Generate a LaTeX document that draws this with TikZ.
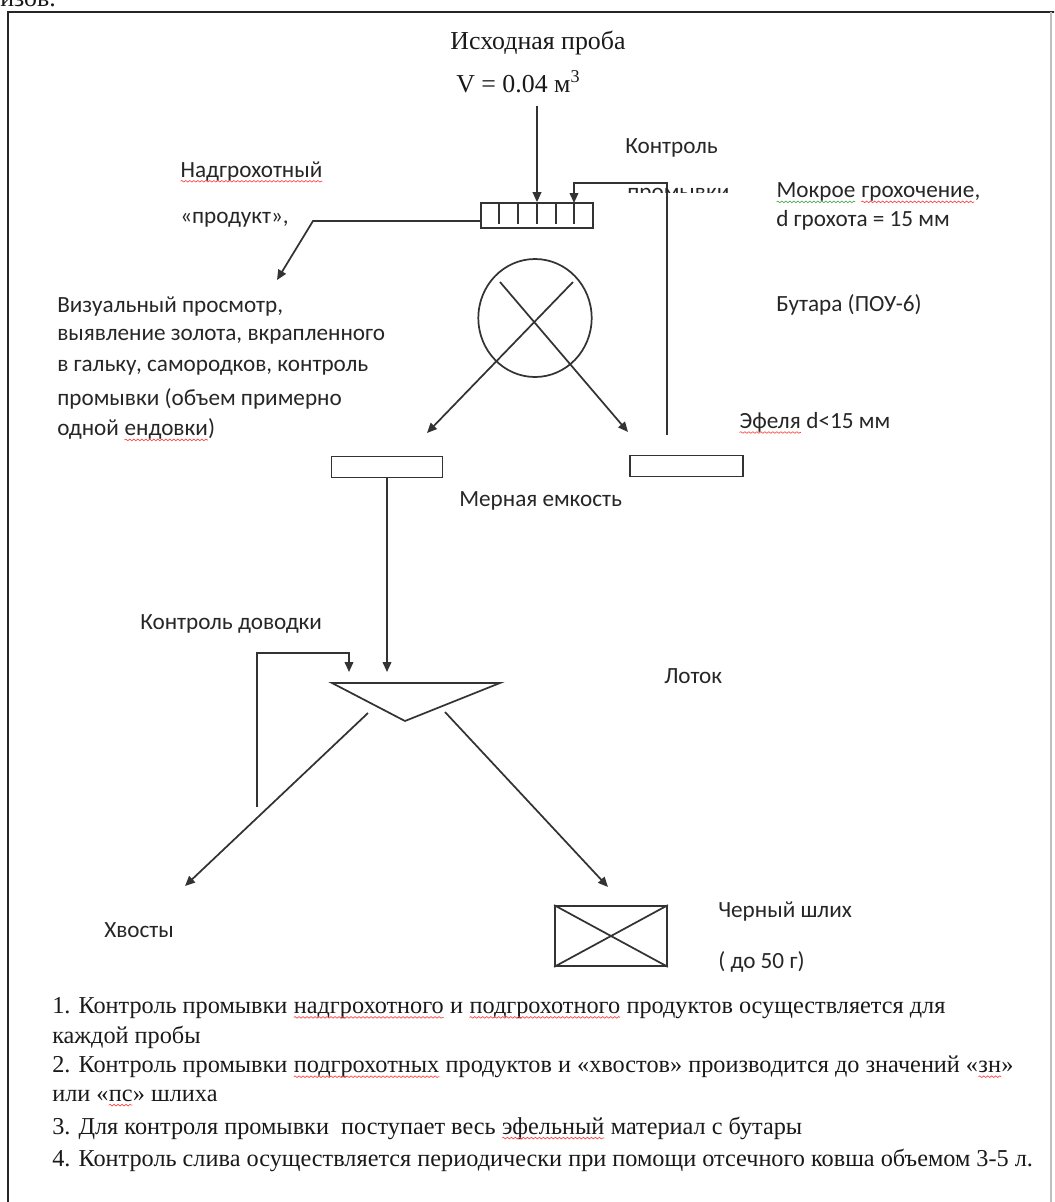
\documentclass[tikz,border=0pt]{standalone}
\usepackage{fontspec}
\setmainfont{Liberation Serif}
\newfontfamily\lblfont{Carlito}
\usetikzlibrary{arrows.meta,shapes.geometric,decorations.pathmorphing}
\newcommand\spellmark[2]{\tikz[baseline=(w.base)]{\node[inner sep=0pt,outer sep=0pt,anchor=base west,font=] (w) at (0pt,0pt) {#2}; \draw[#1,line width=0.5pt,decorate,decoration={snake,amplitude=0.6pt,segment length=3pt}] ([yshift=-3pt]w.base west) -- ([yshift=-3pt]w.base east);}}
\newcommand\spl[1]{\spellmark{red!75}{#1}}
\newcommand\splg[1]{\spellmark{green!50!black!70}{#1}}
\begin{document}
\begin{tikzpicture}[x=0.75pt,y=-0.75pt,
  ln/.style={draw=black!80, line width=1.3pt},
  arr/.style={ln, -{Triangle[length=7.5pt,width=6.5pt]}},
  boxn/.style={ln, rectangle, inner sep=0pt},
  lbl/.style={font=\lblfont\fontsize{17.4}{20}\selectfont, inner sep=0pt, anchor=west, text=black!85},
  ser/.style={font=\fontsize{18.2}{21}\selectfont, inner sep=0pt, anchor=west, text=black!90},
  big/.style={font=\fontsize{19.4}{23}\selectfont, inner sep=0pt, text=black!90}]
\useasboundingbox (0,0) rectangle (1054,1202);
\clip (0,0) rectangle (1054,1202);
% frame
\draw[draw=black!85, line width=2pt] (8,1210) -- (8,12) -- (1060,12);
\draw[draw=black!25, line width=1pt] (1051,12) -- (1051,1210);
\node[big, anchor=base west] (prev) at (0,7) {изов.};
% title
\node[big, anchor=center] (t1) at (538,43) {Исходная проба};
\node[big, anchor=west] (t2) at (456,82) {V = 0.04 м\textsuperscript{3}};
% screen
\node[boxn, minimum width=84pt, minimum height=18.75pt] (scr) at (537,215.5) {};
\foreach \xx in {499,518,537,556,574} \draw[ln] (\xx,203) -- (\xx,224);
\coordinate (a0) at (537,106);
\draw[arr] (a0) -- (scr.north);
\coordinate (fbB) at (667,435);
\coordinate (fbT) at (574,183);
\coordinate (fbE) at (574,203);
\draw[arr] (fbB) |- (fbT) -- (fbE);
\coordinate (s1) at (481,221);
\coordinate (s2) at (313,221);
\coordinate (s3) at (277,280);
\draw[arr] (s1) -- (s2) -- (s3);
% butara
\node[ln, ellipse, inner sep=0pt, minimum width=85pt, minimum height=88.5pt] (but) at (535,318) {};
\coordinate (c1) at (500,282);
\coordinate (c1e) at (628,432);
\coordinate (c2) at (573,282);
\coordinate (c2e) at (427,433);
\draw[arr] (c1) -- (c1e);
\draw[arr] (c2) -- (c2e);
% measuring vessels
\node[boxn, minimum width=83.25pt, minimum height=15.75pt] (mL) at (387,467) {};
\node[boxn, minimum width=84.75pt, minimum height=15.75pt] (mR) at (686.5,466) {};
% lotok
\coordinate (tA) at (332,683);
\coordinate (tB) at (500,683);
\coordinate (tC) at (405,721);
\draw[ln] (tA) -- (tB) -- (tC) -- cycle;
\coordinate (lt1) at (387,672);
\draw[arr] (mL.south -| lt1) -- (lt1);
\coordinate (d1) at (257,807);
\coordinate (d2) at (349,653);
\coordinate (d3) at (349,672);
\draw[arr] (d1) |- (d2) -- (d3);
\coordinate (e1) at (368,713);
\coordinate (e1e) at (185,886);
\coordinate (e2) at (445,712);
\coordinate (e2e) at (608,887);
\draw[arr] (e1) -- (e1e);
\draw[arr] (e2) -- (e2e);
% black concentrate
\node[boxn, minimum width=84pt, minimum height=45pt] (shl) at (611,936) {};
\draw[ln] (shl.north west) -- (shl.south east) (shl.north east) -- (shl.south west);
% labels
\node[lbl] (k1) at (625,148) {Контроль};
\begin{scope}
\clip (600,180) rectangle (760,192.5);
\node[lbl] (k2) at (627,196) {промывки};
\end{scope}
\node[lbl] (n1) at (180,172) {\spl{Надгрохотный}};
\node[lbl] (n2) at (180,220) {«продукт»,};
\node[lbl] (m1) at (776,193) {\splg{Мокрое} \spl{грохочение},};
\node[lbl] (m2) at (776,220) {d грохота = 15 мм};
\node[lbl] (v1) at (57,307) {Визуальный просмотр,};
\node[lbl] (v2) at (57,337) {выявление золота, вкрапленного};
\node[lbl] (v3) at (57,368) {в гальку, самородков, контроль};
\node[lbl] (v4) at (57,399) {промывки (объем примерно};
\node[lbl] (v5) at (57,430) {одной \spl{ендовки})};
\node[lbl] (b1) at (776,305) {Бутара (ПОУ-6)};
\node[lbl] (ef) at (739,423) {\spl{Эфеля} d<15 мм};
\node[lbl] (me) at (459,501) {Мерная емкость};
\node[lbl] (kd) at (140,624) {Контроль доводки};
\node[lbl] (lo) at (664,676) {Лоток};
\node[lbl] (hv) at (104,930) {Хвосты};
\node[lbl] (cs1) at (718,912) {Черный шлих};
\node[lbl] (cs2) at (718,962) {( до 50 г)};
% notes
\node[ser] (p1) at (52,1008) {1. Контроль промывки \spl{надгрохотного} и \spl{подгрохотного} продуктов осуществляется для};
\node[ser] (p1b) at (52,1037) {каждой пробы};
\node[ser] (p2) at (52,1067) {2. Контроль промывки \spl{подгрохотных} продуктов и «хвостов» производится до значений «\spl{зн}»};
\node[ser] (p2b) at (52,1098) {или «\spl{пс}» шлиха};
\node[ser] (p3) at (52,1128) {3. Для контроля промывки\ \ поступает весь \spl{эфельный} материал с бутары};
\node[ser] (p4) at (52,1160) {4. Контроль слива осуществляется периодически при помощи отсечного ковша объемом 3-5 л.};
\end{tikzpicture}
\end{document}
